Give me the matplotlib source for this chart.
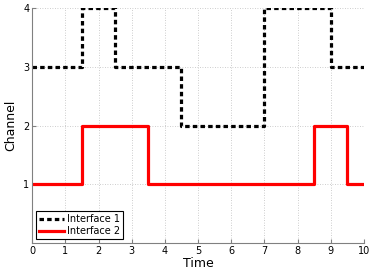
import matplotlib
matplotlib.use("Agg")
import matplotlib.pyplot as plt

# step data (time edges, channel values)
t1 = [0, 1.5, 2.5, 4.5, 7, 9, 10]
ch1 = [3, 4, 3, 2, 4, 3, 3]
t2 = [0, 1.5, 3.5, 8.5, 9.5, 10]
ch2 = [1, 2, 1, 2, 1, 1]

fig = plt.figure(figsize=(3.74, 2.71), dpi=100)
ax = fig.add_axes([0.086, 0.103, 0.887, 0.867])

ax.step(t1, ch1, where="post", color="black", linewidth=2.3,
        linestyle=(0, (1.4, 1.0)), label="Interface 1")
ax.step(t2, ch2, where="post", color="red", linewidth=2.3, label="Interface 2")

ax.set_xlim(0, 10)
ax.set_ylim(0, 4)
ax.set_xticks(range(0, 11))
ax.set_yticks([1, 2, 3, 4])
ax.grid(True, linestyle=(0, (1, 2)), color="#bdbdbd", linewidth=0.6)
ax.tick_params(direction="in", labelsize=7, length=3, pad=2, color="#808080")
for s in ["top", "right"]:
    ax.spines[s].set_visible(False)
for s in ["left", "bottom"]:
    ax.spines[s].set_color("#808080")
ax.set_xlabel("Time", fontsize=9, labelpad=1)
ax.set_ylabel("Channel", fontsize=9, labelpad=4)

leg = ax.legend(loc="lower left", fontsize=7, fancybox=False, framealpha=1,
                edgecolor="black", handlelength=2.6, borderpad=0.3,
                labelspacing=0.2, handletextpad=0.3, borderaxespad=0.4)
leg.get_frame().set_linewidth(0.8)

fig.savefig("out.png", dpi=100)
